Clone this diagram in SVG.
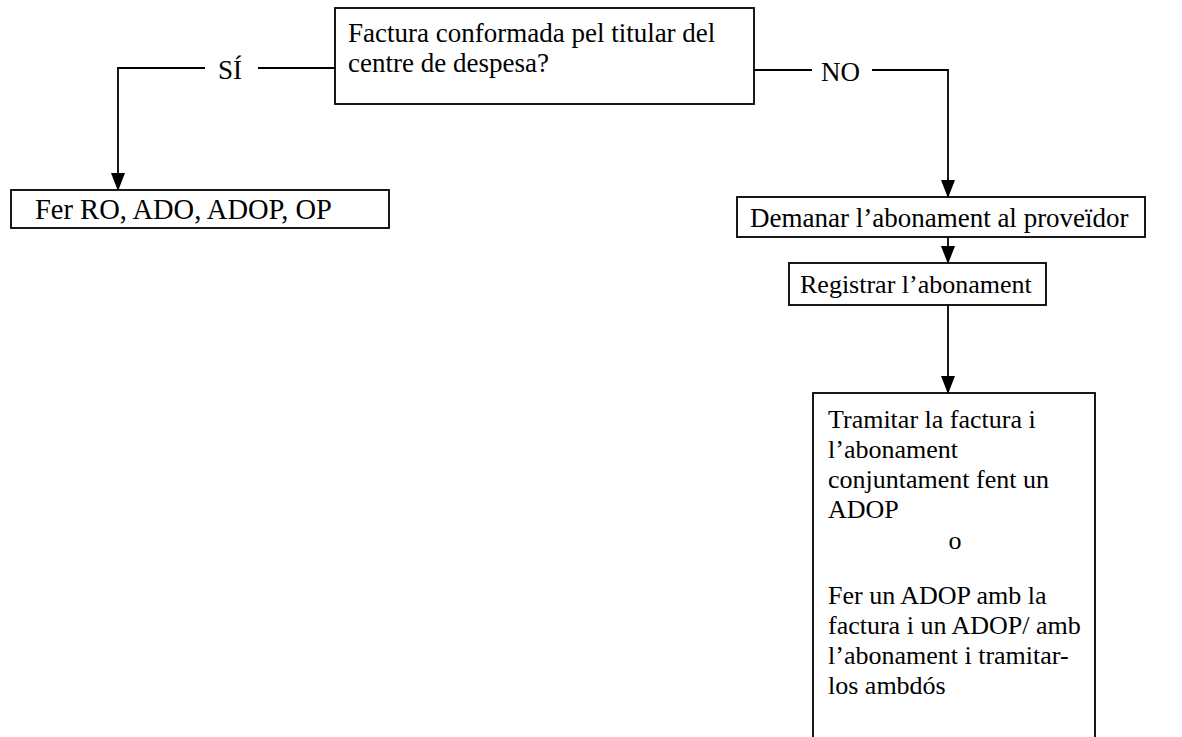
<svg xmlns="http://www.w3.org/2000/svg" width="1182" height="737" viewBox="0 0 1182 737">
<style>
.box{fill:#fff;stroke:#000;stroke-width:1.8}
.t{font-family:"Liberation Serif","Times New Roman",serif;font-size:27px;fill:#000}
.s{font-size:26px}
.c{fill:none;stroke:#000;stroke-width:1.8}
</style>
<defs>
<marker id="ah" markerWidth="18" markerHeight="14" refX="17" refY="7" orient="auto" markerUnits="userSpaceOnUse" viewBox="0 0 18 14">
<path d="M0,0 L18,7 L0,14 Z" fill="#000"/>
</marker>
</defs>
<rect width="1182" height="737" fill="#fff"/>
<g id="connectors">
<path class="c" d="M335,68 H258"/>
<path class="c" d="M205,68 H118 V190" marker-end="url(#ah)"/>
<text class="t" x="218" y="79">SÍ</text>
<path class="c" d="M754,70 H812"/>
<path class="c" d="M872,70 H948 V197" marker-end="url(#ah)"/>
<text class="t" x="821" y="81">NO</text>
<path class="c" d="M948,237 V263" marker-end="url(#ah)"/>
<path class="c" d="M948,305 V393" marker-end="url(#ah)"/>
</g>
<g id="decision">
<rect class="box" x="335" y="8" width="419" height="96"/>
<text class="t" x="348" y="42">Factura conformada pel titular del</text>
<text class="t" x="348" y="72">centre de despesa?</text>
</g>
<g id="fer">
<rect class="box" x="11" y="190" width="378" height="38"/>
<text class="t" x="35" y="219" style="font-size:28.5px">Fer RO, ADO, ADOP, OP</text>
</g>
<g id="demanar">
<rect class="box" x="737" y="197" width="408" height="40"/>
<text class="t" x="750" y="227">Demanar l’abonament al proveïdor</text>
</g>
<g id="registrar">
<rect class="box" x="789" y="263" width="257" height="42"/>
<text class="t s" x="800" y="293">Registrar l’abonament</text>
</g>
<g id="tramitar">
<rect class="box" x="813" y="393" width="282" height="380"/>
<text class="t s" x="828" y="428">Tramitar la factura i</text>
<text class="t s" x="828" y="458">l’abonament</text>
<text class="t s" x="828" y="488">conjuntament fent un</text>
<text class="t s" x="828" y="518">ADOP</text>
<text class="t s" x="955" y="549" text-anchor="middle">o</text>
<text class="t s" x="828" y="604">Fer un ADOP amb la</text>
<text class="t s" x="828" y="634">factura i un ADOP/ amb</text>
<text class="t s" x="828" y="664">l’abonament i tramitar-</text>
<text class="t s" x="828" y="694">los ambdós</text>
</g>
</svg>
